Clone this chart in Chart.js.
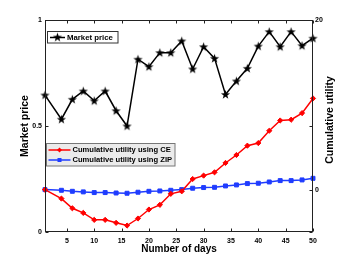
<!DOCTYPE html>
<html><head><meta charset="utf-8">
<script src="https://cdn.jsdelivr.net/npm/chart.js@4.4.0/dist/chart.umd.min.js"></script>
<style>html,body{margin:0;padding:0;background:#fff;}#wrap{width:346px;height:261px;position:relative;}</style>
</head><body><div id="wrap"><canvas id="c" width="346" height="261"></canvas></div>
<script>
const days = [1,4,6,8,10,12,14,16,18,20,22,24,26,28,30,32,34,36,38,40,42,44,46,48,50];
const marketPrice = [0.646,0.532,0.626,0.665,0.619,0.665,0.572,0.50,0.815,0.780,0.846,0.846,0.901,0.769,0.874,0.819,0.649,0.712,0.772,0.877,0.945,0.874,0.945,0.879,0.914];
const utilityCE = [0,-1.06,-2.2,-2.75,-3.57,-3.57,-3.92,-4.24,-3.41,-2.35,-1.8,-0.5,-0.2,1.25,1.65,2.04,3.14,4.08,5.18,5.49,6.94,8.15,8.24,9.02,10.75];
const utilityZIP = [0,-0.08,-0.2,-0.27,-0.35,-0.35,-0.4,-0.43,-0.31,-0.2,-0.16,-0.08,0,0.16,0.24,0.27,0.43,0.55,0.71,0.75,0.9,1.06,1.06,1.14,1.33];
const xTicks = [5,10,15,20,25,30,35,40,45,50];
const leftTicks = [0,0.5,1];
const rightTicks = [0,20];
const rightTickMarks = [-5,0,7.5,20];
const seriesNames = ['Market price','Cumulative utility using CE','Cumulative utility using ZIP'];
const xTitle = 'Number of days';
const leftTitle = 'Market price';
const rightTitle = 'Cumulative utility';

const FONT = "'Liberation Sans', Arial, sans-serif";
const RED = '#ff0000', BLUE = '#1f3cff', BLACK = '#000000';

function makeStar(){
  const c = document.createElement('canvas'); c.width = 11; c.height = 11;
  const g = c.getContext('2d'); g.beginPath();
  for (let i = 0; i < 10; i++) {
    const r = i % 2 ? 1.9 : 4.8; const a = -Math.PI/2 + i*Math.PI/5;
    g.lineTo(5.5 + r*Math.cos(a), 5.9 + r*Math.sin(a));
  }
  g.closePath(); g.fillStyle = '#000'; g.fill(); return c;
}
const star = makeStar();

const toXY = arr => days.map((d,i) => ({x:d, y:arr[i]}));

const deco = {
  id: 'deco',
  afterDraw(chart){
    const ctx = chart.ctx, a = chart.chartArea;
    const xs = chart.scales.x, ys = chart.scales.y, y1 = chart.scales.y1;
    const L = Math.round(a.left)+0.5, R = Math.round(a.right)-0.5, T = Math.round(a.top)+0.5, B = Math.round(a.bottom)-0.5;
    ctx.save();
    ctx.strokeStyle = '#222'; ctx.lineWidth = 1;
    ctx.strokeRect(L, T, R-L, B-T);
    ctx.beginPath();
    xTicks.forEach(v => { const p = Math.round(xs.getPixelForValue(v))+0.5;
      ctx.moveTo(p, B); ctx.lineTo(p, B-3); ctx.moveTo(p, T); ctx.lineTo(p, T+3); });
    leftTicks.forEach(v => { const p = Math.round(ys.getPixelForValue(v))+0.5; ctx.moveTo(L, p); ctx.lineTo(L+3, p); });
    rightTickMarks.forEach(v => { const p = Math.round(y1.getPixelForValue(v))+0.5; ctx.moveTo(R, p); ctx.lineTo(R-3, p); });
    ctx.stroke();

    // right title
    ctx.save();
    ctx.translate(330.5, 120); ctx.rotate(-Math.PI/2);
    ctx.font = 'bold 10.5px ' + FONT; ctx.fillStyle = '#000'; ctx.textAlign = 'center'; ctx.textBaseline = 'middle';
    ctx.fillText(rightTitle, 0, 0);
    ctx.restore();

    // legend 1
    ctx.fillStyle = '#fff'; ctx.fillRect(47.5, 31.5, 70.5, 11.5);
    ctx.strokeStyle = '#333'; ctx.strokeRect(47.5, 31.5, 70.5, 11.5);
    ctx.strokeStyle = BLACK; ctx.lineWidth = 1.5;
    ctx.beginPath(); ctx.moveTo(50, 37.5); ctx.lineTo(65, 37.5); ctx.stroke();
    ctx.drawImage(star, 57.5-5.5, 37.5-5.9);
    ctx.fillStyle = '#000'; ctx.font = 'bold 7.8px ' + FONT; ctx.textAlign = 'left'; ctx.textBaseline = 'middle';
    ctx.fillText(seriesNames[0], 67, 37.8);

    // legend 2
    ctx.fillStyle = '#ebebeb'; ctx.fillRect(46.5, 143.5, 128.5, 22.5);
    ctx.strokeStyle = '#777'; ctx.lineWidth = 1; ctx.strokeRect(46.5, 143.5, 128.5, 22.5);
    [[RED, 150, 'd'], [BLUE, 160, 's']].forEach(([col, y, m], i) => {
      ctx.strokeStyle = col; ctx.lineWidth = 1.5;
      ctx.beginPath(); ctx.moveTo(48.5, y); ctx.lineTo(70.5, y); ctx.stroke();
      ctx.fillStyle = col; ctx.beginPath();
      if (m === 'd') { ctx.moveTo(59.5, y-2.6); ctx.lineTo(62, y); ctx.lineTo(59.5, y+2.6); ctx.lineTo(57, y); ctx.closePath(); }
      else { ctx.rect(57.5, y-2, 4, 4); }
      ctx.fill();
      ctx.fillStyle = '#000'; ctx.font = 'bold 7.6px ' + FONT; ctx.textAlign = 'left'; ctx.textBaseline = 'middle';
      ctx.fillText(seriesNames[i+1], 72.5, y+0.3);
    });
    ctx.restore();
  }
};

new Chart(document.getElementById('c'), {
  type: 'line',
  data: {
    datasets: [
      { label: seriesNames[1], data: toXY(utilityCE), yAxisID: 'y1', borderColor: RED, backgroundColor: RED,
        borderWidth: 1.5, pointStyle: 'rectRot', pointRadius: 2.6, pointBorderWidth: 1, pointBorderColor: RED, clip: false, tension: 0 },
      { label: seriesNames[2], data: toXY(utilityZIP), yAxisID: 'y1', borderColor: BLUE, backgroundColor: BLUE,
        borderWidth: 1.5, pointStyle: 'rect', pointRadius: 2.8, pointBorderWidth: 1, pointBorderColor: BLUE, clip: false, tension: 0 },
      { label: seriesNames[0], data: toXY(marketPrice), yAxisID: 'y', borderColor: BLACK, backgroundColor: BLACK,
        borderWidth: 1.5, pointStyle: star, clip: false, tension: 0 }
    ]
  },
  options: {
    responsive: false, animation: false, devicePixelRatio: 1,
    layout: { padding: { top: 20, left: 0, right: 0, bottom: 0 } },
    plugins: { legend: { display: false }, tooltip: { enabled: false } },
    scales: {
      x: {
        type: 'linear', min: 1, max: 50,
        afterBuildTicks: s => { s.ticks = xTicks.map(v => ({value: v})); },
        afterFit: s => { s.height = 29; },
        grid: { display: false, drawTicks: false }, border: { display: false },
        ticks: { color: '#000', font: { family: FONT, size: 7, weight: 'bold' }, padding: 5, maxRotation: 0, autoSkip: false },
        title: { display: true, text: xTitle, color: '#000', font: { family: FONT, size: 10, weight: 'bold' }, padding: { top: 0, bottom: 6 } }
      },
      y: {
        position: 'left', min: 0, max: 1,
        afterBuildTicks: s => { s.ticks = leftTicks.map(v => ({value: v})); },
        afterFit: s => { s.width = 45; },
        grid: { display: false, drawTicks: false }, border: { display: false },
        ticks: { color: '#000', font: { family: FONT, size: 7, weight: 'bold' }, padding: 3, callback: v => String(v) },
        title: { display: true, text: leftTitle, color: '#000', font: { family: FONT, size: 10.5, weight: 'bold' }, padding: { top: 19, bottom: 0 } }
      },
      y1: {
        position: 'right', min: -5, max: 20,
        afterBuildTicks: s => { s.ticks = rightTicks.map(v => ({value: v})); },
        afterFit: s => { s.width = 33; },
        grid: { display: false, drawTicks: false }, border: { display: false },
        ticks: { color: '#000', font: { family: FONT, size: 7, weight: 'bold' }, padding: 2, callback: v => String(v) },
        title: { display: false }
      }
    }
  },
  plugins: [deco]
});
</script>
</body></html>
